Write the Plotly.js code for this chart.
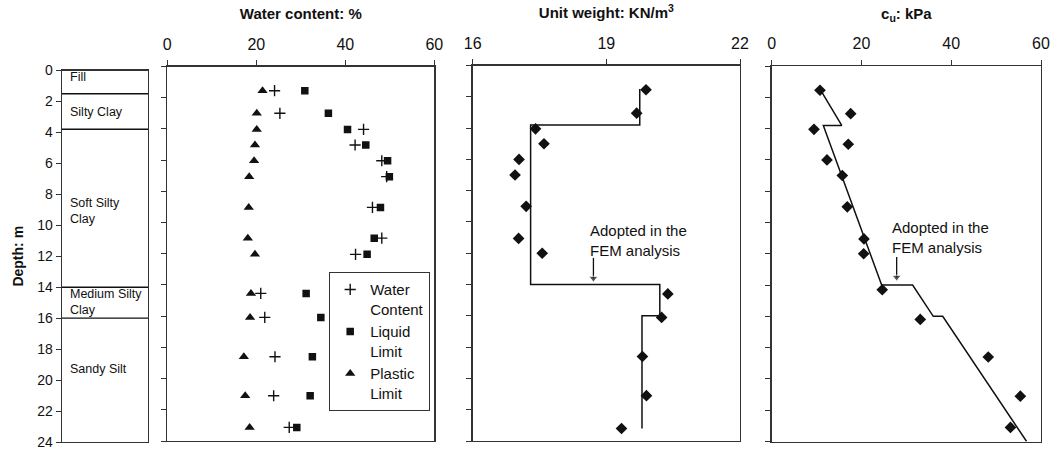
<!DOCTYPE html>
<html>
<head>
<meta charset="utf-8">
<script src="https://cdn.plot.ly/plotly-3.0.1.min.js"></script>
<style>
  html, body { margin: 0; padding: 0; background: #fff; }
  #chart { width: 1054px; height: 450px; }
</style>
</head>
<body>
<div id="chart"></div>
<script>
// Soil profile
const layerNames = ['Fill', 'Silty Clay', 'Soft Silty<br>Clay', 'Medium Silty<br>Clay', 'Sandy Silt'];
const layerBottoms = [1.5, 3.8, 14, 16, 24];
const layerLabelDepths = [0.45, 2.7, 9.1, 14.95, 19.3];

// Water content, Atterberg limits (%)
const testDepths = [1.55, 3.0, 4.03, 5.03, 6.04, 7.06, 9.03, 11.0, 12.04, 14.54, 16.08, 18.6, 21.1, 23.13];
const waterContent = [24.1, 25.3, 44.1, 42.2, 48.2, 49.3, 46.1, 48.2, 42.3, 21.0, 21.9, 24.2, 23.9, 27.4];
const liquidLimit = [30.9, 36.2, 40.5, 44.6, 49.5, 49.9, 47.9, 46.5, 44.9, 31.2, 34.5, 32.6, 32.1, 29.1];
const plasticLimit = [21.4, 20.1, 20.1, 19.7, 19.5, 18.4, 18.3, 18.1, 19.7, 18.8, 18.6, 17.2, 17.5, 18.5];

// Unit weight (kN/m3)
const uwDepths = [1.55, 3.05, 4.05, 5.0, 6.0, 7.0, 9.0, 11.05, 12.0, 14.6, 16.1, 18.6, 21.1, 23.2];
const unitWeight = [19.89, 19.68, 17.41, 17.6, 17.04, 16.95, 17.2, 17.03, 17.56, 20.38, 20.24, 19.81, 19.9, 19.34];
const uwAdoptedX = [19.75, 19.75, 17.3, 17.3, 20.2, 20.2, 19.8, 19.8];
const uwAdoptedDepth = [1.5, 3.8, 3.8, 14, 14, 16, 16, 23.2];
const uwTicks = [16, 19, 22];

// Undrained shear strength (kPa)
const cuDepths = [1.55, 3.05, 4.05, 5.0, 6.0, 7.0, 9.0, 11.05, 12.0, 14.3, 16.2, 18.6, 21.1, 23.1];
const cuValues = [10.76, 17.6, 9.42, 17.06, 12.32, 15.73, 16.84, 20.56, 20.49, 24.63, 33.1, 48.25, 55.4, 53.2];
const cuAdoptedX = [10.8, 15.6, 11.5, 24.5, 31.4, 36.0, 38.1, 56.8];
const cuAdoptedDepth = [1.5, 3.8, 3.8, 14, 14, 16, 16, 24];

// Callout arrows pointing at the adopted profiles: [x, tail depth, head depth]
const uwArrow = [18.71, 12.3, 13.6];
const cuArrow = [27.84, 12.2, 13.5];

const depthTicks = [0, 2, 4, 6, 8, 10, 12, 14, 16, 18, 20, 22, 24];
const ink = '#111';
const frame = '#333';

// layer boundary lines inside the soil column
const bx = [], by = [];
layerBottoms.slice(0, -1).forEach(d => { bx.push(0, 1, null); by.push(d, d, null); });

const arrowTrace = (a, xa, ya) => ({
  x: [a[0], a[0]], y: [a[1], a[2]], xaxis: xa, yaxis: ya, mode: 'lines+markers',
  line: { color: ink, width: 1.3 },
  marker: { symbol: 'triangle-down', size: [0, 8], color: ink },
  showlegend: false, hoverinfo: 'skip'
});

const traces = [
  { x: bx, y: by, xaxis: 'x', yaxis: 'y', mode: 'lines', line: { color: ink, width: 1.4 },
    showlegend: false, hoverinfo: 'skip' },

  { x: waterContent, y: testDepths, xaxis: 'x2', yaxis: 'y2', mode: 'markers', name: 'Water<br>Content',
    marker: { symbol: 'cross-thin', size: 8, line: { color: ink, width: 1.4 }, color: ink } },
  { x: liquidLimit, y: testDepths, xaxis: 'x2', yaxis: 'y2', mode: 'markers', name: 'Liquid<br>Limit',
    marker: { symbol: 'square', size: 7.5, color: ink } },
  { x: plasticLimit, y: testDepths, xaxis: 'x2', yaxis: 'y2', mode: 'markers', name: 'Plastic<br>Limit',
    marker: { symbol: 'triangle-up', size: 9, color: ink } },

  { x: uwAdoptedX, y: uwAdoptedDepth, xaxis: 'x3', yaxis: 'y3', mode: 'lines',
    line: { color: ink, width: 1.5 }, showlegend: false },
  { x: unitWeight, y: uwDepths, xaxis: 'x3', yaxis: 'y3', mode: 'markers',
    marker: { symbol: 'diamond', size: 9, color: ink }, showlegend: false },
  arrowTrace(uwArrow, 'x3', 'y3'),

  { x: cuAdoptedX, y: cuAdoptedDepth, xaxis: 'x4', yaxis: 'y4', mode: 'lines',
    line: { color: ink, width: 1.5 }, showlegend: false },
  { x: cuValues, y: cuDepths, xaxis: 'x4', yaxis: 'y4', mode: 'markers',
    marker: { symbol: 'diamond', size: 9, color: ink }, showlegend: false },
  arrowTrace(cuArrow, 'x4', 'y4')
];

const W = 1054, H = 450;
const dom = (a, b, n) => [a / n, b / n];
const ydom = (top, bottom) => [1 - bottom / H, 1 - top / H];

const frameAxis = {
  showline: true, mirror: true, linecolor: frame, linewidth: 1.4,
  showgrid: false, zeroline: false, fixedrange: true
};
const depthAxis = (anchor, top, bottom) => Object.assign({}, frameAxis, {
  anchor: anchor, domain: ydom(top, bottom), range: [24, 0], tickvals: depthTicks,
  ticks: 'outside', ticklen: 5, tickcolor: frame, showticklabels: false
});
const topAxis = (anchor, left, right, range, ticks, title) => Object.assign({}, frameAxis, {
  anchor: anchor, domain: dom(left, right, W), range: range, tickvals: ticks, side: 'top',
  ticks: 'outside', ticklen: 5, tickcolor: frame, tickfont: { size: 16 }, ticklabelstandoff: 4,
  title: { text: title, font: { size: 15 }, standoff: 12 }
});

const annFont = { size: 15, color: ink };
const annotations = layerNames.map((t, i) => ({
  xref: 'x', yref: 'y', x: 0.065, y: layerLabelDepths[i], text: t, showarrow: false,
  xanchor: 'left', yanchor: 'middle', align: 'left', font: { size: 12.5, color: ink }
}));
annotations.push(
  { xref: 'x3', yref: 'y3', x: 18.59, y: 11.2, text: 'Adopted in the<br>FEM analysis', showarrow: false,
    xanchor: 'left', yanchor: 'middle', align: 'left', font: annFont },
  { xref: 'x4', yref: 'y4', x: 26.35, y: 10.95, text: 'Adopted in the<br>FEM analysis', showarrow: false,
    xanchor: 'left', yanchor: 'middle', align: 'left', font: annFont }
);

const layout = {
  width: W, height: H,
  margin: { l: 0, r: 0, t: 0, b: 0 },
  paper_bgcolor: '#fff', plot_bgcolor: '#fff',
  font: { family: 'Liberation Sans, Arial, sans-serif', color: ink },
  showlegend: true,
  legend: {
    x: 329 / W, y: 1 - 272 / H, xanchor: 'left', yanchor: 'top',
    bordercolor: frame, borderwidth: 1.2, bgcolor: '#fff',
    font: { size: 15, color: ink }, valign: 'top', itemwidth: 30
  },
  xaxis: Object.assign({}, frameAxis, {
    anchor: 'y', domain: dom(62, 148, W), range: [0, 1], showticklabels: false, ticks: ''
  }),
  yaxis: Object.assign({}, frameAxis, {
    anchor: 'x', domain: ydom(70.5, 442), range: [24, 0], tickvals: depthTicks,
    ticks: 'outside', ticklen: 5, tickcolor: frame, tickfont: { size: 14 },
    title: { text: '<b>Depth: m</b>', font: { size: 14 }, standoff: 10 }
  }),
  xaxis2: topAxis('y2', 167.3, 434.3, [0, 60], [0, 20, 40, 60], '<b>Water content: %</b>'),
  yaxis2: depthAxis('x2', 66.5, 441),
  xaxis3: topAxis('y3', 472.7, 740, [16, 22], uwTicks, '<b>Unit weight: KN/m<sup>3</sup></b>'),
  yaxis3: depthAxis('x3', 65.5, 441),
  xaxis4: topAxis('y4', 771.7, 1041, [0, 60], [0, 20, 40, 60], '<b>c<sub>u</sub>: kPa</b>'),
  yaxis4: depthAxis('x4', 66, 441.5),
  annotations: annotations
};

Plotly.newPlot('chart', traces, layout, { staticPlot: true, displayModeBar: false });
</script>
</body>
</html>
